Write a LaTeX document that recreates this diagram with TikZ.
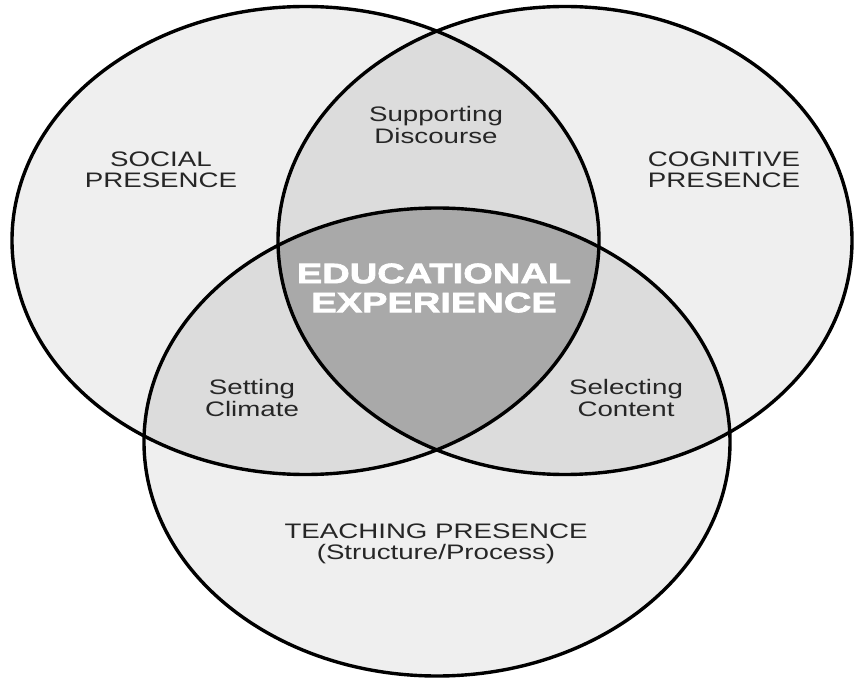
\documentclass[tikz,border=0pt]{standalone}
\usepackage{fontspec}
\setmainfont{Liberation Sans}[FakeStretch=1.32]
\newfontfamily\heavyfont{Liberation Sans Bold}[FakeStretch=1.36,FakeBold=2.5]
\usetikzlibrary{positioning}
\definecolor{outergray}{HTML}{EFEFEF}
\definecolor{pairgray}{HTML}{DCDCDC}
\definecolor{coregray}{HTML}{A9A9A9}
\newcommand{\socialset}{(305.5,240.5) ellipse [x radius=293.5, y radius=234]}
\newcommand{\cognitiveset}{(565,240.5) ellipse [x radius=287, y radius=234]}
\newcommand{\teachingset}{(437,442) ellipse [x radius=293, y radius=234]}
\begin{document}
\begin{tikzpicture}[x=0.3mm,y=-0.3mm,line width=2.9pt]
            \useasboundingbox (0,0) rectangle (854,680);
            \tikzstyle{label}=[font=\fontsize{17.9pt}{18.3pt}\selectfont,align=center,text=black!85]
            \tikzstyle{core}=[font=\fontsize{23.9pt}{24.8pt}\selectfont\heavyfont,align=center,text=white]
            
            % three sets
            \fill[outergray] \socialset;
            \fill[outergray] \cognitiveset;
            \fill[outergray] \teachingset;
            
            % pairwise overlaps
            \begin{scope}
            \clip \socialset;
            \fill[pairgray] \cognitiveset;
            \fill[pairgray] \teachingset;
            \end{scope}
            \begin{scope}
            \clip \cognitiveset;
            \fill[pairgray] \teachingset;
            \end{scope}
            
            % centre
            \begin{scope}
            \clip \socialset;
            \clip \cognitiveset;
            \fill[coregray] \teachingset;
            \end{scope}
            
            \draw \socialset;
            \draw \cognitiveset;
            \draw \teachingset;
            
            \node[label] (social) at (161,170) {SOCIAL\\PRESENCE};
            \node[label] (cognitive) at (724,170) {COGNITIVE\\PRESENCE};
            \node[label] (discourse) at (436,125) {Supporting\\Discourse};
            \node[core] (experience) at (434,288) {EDUCATIONAL\\EXPERIENCE};
            \node[label] (climate) at (252,398) {Setting\\Climate};
            \node[label] (content) at (626,398) {Selecting\\Content};
            \node[label] (teaching) at (436,544) {TEACHING PRESENCE\\(Structure/Process)};
        \end{tikzpicture}
\end{document}
